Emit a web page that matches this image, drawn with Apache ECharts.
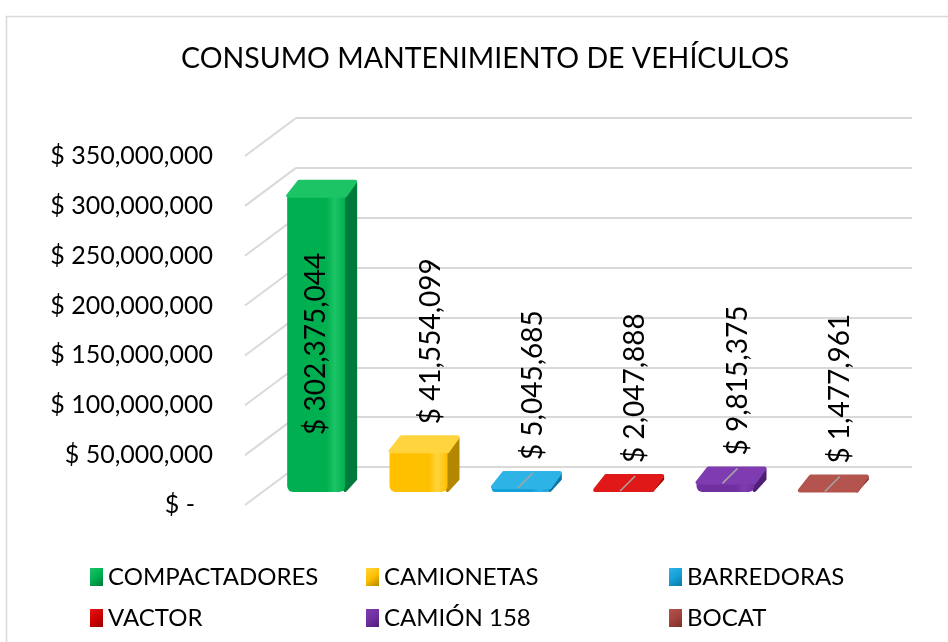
<!DOCTYPE html>
<html>
<head>
<meta charset="utf-8">
<script src="https://cdn.jsdelivr.net/npm/echarts@6/dist/echarts.min.js"></script>
<style>
  html, body { margin: 0; padding: 0; background: #fff; }
  #main { width: 948px; height: 642px; }
</style>
</head>
<body>
<div id="main"></div>
<script>
// datos del grafico
const categories = ['COMPACTADORES', 'CAMIONETAS', 'BARREDORAS', 'VACTOR', 'CAMIÓN 158', 'BOCAT']
const values = [302375044, 41554099, 5045685, 2047888, 9815375, 1477961]
const yTicks = [0, 50000000, 100000000, 150000000, 200000000, 250000000, 300000000, 350000000]

// colores: frente, lado (oscuro), tapa (claro)
const frontColors = ['#00b050', '#ffc000', '#14a0d8', '#d00000', '#7030a0', '#a3423c']
const sideColors = ['#007a3a', '#b48700', '#0b78a4', '#960000', '#4f1f74', '#7a2f2b']
const topColors = ['#1cc466', '#ffd43d', '#2db3e6', '#e01818', '#7f3cb0', '#b3544e']

const FONT = 'Lato, "Open Sans", sans-serif'
const yMax = yTicks[yTicks.length - 1]
const yStep = yTicks[1] - yTicks[0]

function money (v) {
  return '$ ' + Math.round(v).toLocaleString('en-US')
}

function grad (i) {
  return {
    type: 'linear', x: 0, y: 0, x2: 1, y2: 1,
    colorStops: [
      { offset: 0, color: topColors[i] },
      { offset: 0.5, color: frontColors[i] },
      { offset: 1, color: sideColors[i] }
    ]
  }
}

// barra "3D": cara frontal + tapa + lado
function renderBar (params, api) {
  const i = api.value(0)
  const v = api.value(1)
  const base = api.coord([i, 0])
  const top = api.coord([i, v])
  const dx = 12
  const dy = -15
  const w = 58
  const x0 = base[0] - (w + dx) / 2
  const x1 = x0 + w
  const yb = base[1]
  const yt = top[1]
  const h = yb - yt
  const cx = x0 + w / 2
  const rnd = (c) => ({ fill: c, stroke: c, lineWidth: 4, lineJoin: 'round' })

  const children = [
    {
      type: 'polygon',
      shape: { points: [[x1, yt], [x1 + dx - 2, yt + dy + 2], [x1 + dx - 2, yb + dy + 2], [x1, yb - 2]] },
      style: rnd(sideColors[i])
    },
    {
      type: 'rect',
      shape: { x: x0, y: yt, width: w, height: h, r: [3, 3, 6, 6] },
      style: {
        fill: {
          type: 'linear', x: 0, y: 0, x2: 1, y2: 0,
          colorStops: [
            { offset: 0, color: frontColors[i] },
            { offset: 0.68, color: frontColors[i] },
            { offset: 0.82, color: topColors[i] },
            { offset: 1, color: frontColors[i] }
          ]
        }
      }
    },
    {
      type: 'polygon',
      shape: { points: [[x0 + 1, yt], [x0 + dx, yt + dy + 1], [x1 + dx - 2, yt + dy + 1], [x1, yt]] },
      style: rnd(topColors[i])
    }
  ]

  if (h > 100) {
    // etiqueta dentro de la barra
    children.push({
      type: 'text',
      x: cx,
      y: (yt + yb) / 2,
      rotation: Math.PI / 2,
      style: { text: money(v), fill: '#000', fontSize: 28, fontFamily: FONT, align: 'center', verticalAlign: 'middle' }
    })
  } else {
    if (h < 20) {
      // linea guia
      children.push({
        type: 'line',
        shape: { x1: cx - 3, y1: yt + 1, x2: cx + 12, y2: yt - 14 },
        style: { stroke: '#a6a6a6', lineWidth: 1.5 }
      })
    }
    children.push({
      type: 'text',
      x: cx + 12,
      y: yt + dy - 12,
      rotation: Math.PI / 2,
      style: { text: money(v), fill: '#000', fontSize: 28, fontFamily: FONT, align: 'left', verticalAlign: 'middle' }
    })
  }
  return { type: 'group', children: children }
}

// lineas diagonales del piso/pared
function renderDiag (params, api) {
  const p = api.coord([0, api.value(1)])
  return {
    type: 'line',
    shape: { x1: p[0], y1: p[1], x2: p[0] - 51, y2: p[1] + 38 },
    style: { stroke: '#d9d9d9', lineWidth: 2 }
  }
}

const myChart = echarts.init(document.getElementById('main'))

const barSeries = categories.map((name, i) => ({
  name: name,
  type: 'custom',
  xAxisIndex: 2,
  yAxisIndex: 2,
  renderItem: renderBar,
  itemStyle: { color: grad(i) },
  data: [[i, values[i]]],
  z: 5
}))

const legendStyle = {
  orient: 'vertical',
  top: 560,
  itemGap: 17,
  itemWidth: 13,
  itemHeight: 18,
  icon: 'rect',
  selectedMode: false,
  textStyle: { fontSize: 24, lineHeight: 23, fontFamily: FONT, color: '#000' }
}

const option = {
  backgroundColor: '#fff',
  animation: false,
  title: {
    text: 'CONSUMO MANTENIMIENTO DE VEHÍCULOS',
    left: 176,
    top: 39,
    textStyle: { fontSize: 28.5, fontWeight: 'normal', fontFamily: FONT, color: '#000' }
  },
  graphic: [
    {
      type: 'rect',
      shape: { x: 6.5, y: 16.5, width: 1000, height: 700 },
      style: { fill: 'none', stroke: '#d9d9d9', lineWidth: 1.5 },
      z: -10
    }
  ],
  legend: [
    Object.assign({ left: 85, data: [categories[0], categories[3]] }, legendStyle),
    Object.assign({ left: 361, data: [categories[1], categories[4]] }, legendStyle),
    Object.assign({ left: 664, data: [categories[2], categories[5]] }, legendStyle)
  ],
  grid: [
    { left: 296, right: 36, top: 118, bottom: 175 },
    { left: 245, width: 1, top: 156, bottom: 137 },
    { left: 271, right: 63, top: 149, bottom: 150 }
  ],
  xAxis: [
    { gridIndex: 0, type: 'value', min: 0, max: 1, show: false },
    { gridIndex: 1, type: 'value', min: 0, max: 1, show: false },
    { gridIndex: 2, type: 'category', data: categories, show: false }
  ],
  yAxis: [
    {
      gridIndex: 0, type: 'value', min: 0, max: yMax, interval: yStep,
      axisLabel: { show: false }, axisLine: { show: false }, axisTick: { show: false },
      splitLine: { lineStyle: { color: '#d9d9d9', width: 2 } }
    },
    {
      gridIndex: 1, type: 'value', min: 0, max: yMax, interval: yStep,
      axisLine: { show: false }, axisTick: { show: false }, splitLine: { show: false },
      axisLabel: {
        margin: 32,
        fontSize: 25,
        fontFamily: FONT,
        color: '#000',
        formatter: v => v === 0 ? '{z|$ -}' : money(v),
        rich: { z: { fontSize: 25, fontFamily: FONT, color: '#000', padding: [0, 18, 0, 0] } }
      }
    },
    { gridIndex: 2, type: 'value', min: 0, max: yMax, show: false }
  ],
  series: [
    {
      type: 'custom',
      xAxisIndex: 0,
      yAxisIndex: 0,
      renderItem: renderDiag,
      silent: true,
      data: yTicks.map(t => [0, t]),
      z: 1
    }
  ].concat(barSeries)
}

myChart.setOption(option)
</script>
</body>
</html>
